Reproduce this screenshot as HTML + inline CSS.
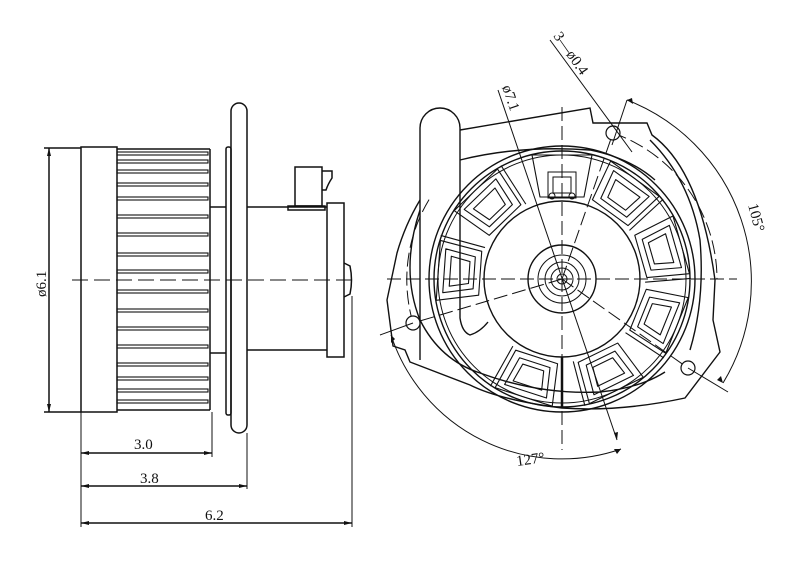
<!DOCTYPE html>
<html><head><meta charset="utf-8"><style>
html,body{margin:0;padding:0;background:#fff;}
svg{display:block}
text{font-family:"Liberation Serif",serif;font-size:15px;fill:#111}
</style></head><body>
<svg width="800" height="581" viewBox="0 0 800 581" xmlns="http://www.w3.org/2000/svg">
<rect width="800" height="581" fill="#fff"/>
<g fill="none" stroke="#111" stroke-width="1.5">
<!-- LEFT VIEW -->
<line x1="49" y1="148" x2="49" y2="412"/>
<line x1="44" y1="148" x2="81" y2="148"/>
<line x1="44" y1="412" x2="81" y2="412"/>
<rect x="81" y="147" width="36" height="265"/>
<line x1="117" y1="149" x2="210" y2="149"/>
<line x1="117" y1="410" x2="210" y2="410"/>
<line x1="210" y1="149" x2="210" y2="410"/>
<g stroke-width="1.1">
<rect x="117" y="152" width="91" height="3"/>
<rect x="117" y="160" width="91" height="3"/>
<rect x="117" y="170" width="91" height="3"/>
<rect x="117" y="183" width="91" height="3"/>
<rect x="117" y="197" width="91" height="3"/>
<rect x="117" y="215" width="91" height="3"/>
<rect x="117" y="233" width="91" height="3"/>
<rect x="117" y="253" width="91" height="3"/>
<rect x="117" y="270" width="91" height="3"/>
<rect x="117" y="290" width="91" height="3"/>
<rect x="117" y="309" width="91" height="3"/>
<rect x="117" y="327" width="91" height="3"/>
<rect x="117" y="345" width="91" height="3"/>
<rect x="117" y="363" width="91" height="3"/>
<rect x="117" y="377" width="91" height="3"/>
<rect x="117" y="389" width="91" height="3"/>
<rect x="117" y="400" width="91" height="3"/>
</g>
<line x1="210" y1="207" x2="226" y2="207"/>
<line x1="210" y1="353" x2="226" y2="353"/>
<rect x="226" y="147" width="5" height="268" rx="2"/>
<rect x="231" y="103" width="16" height="330" rx="8"/>
<line x1="247" y1="207" x2="327" y2="207"/>
<line x1="247" y1="350" x2="327" y2="350"/>
<rect x="327" y="203" width="17" height="154"/>
<path d="M344 263 L350 266 Q353 280 350 294 L344 297"/>
<rect x="295" y="167" width="27" height="39"/>
<rect x="288" y="206" width="37" height="4"/>
<path d="M322 171 L332 171 L332 178 Q328 184 326 190 L322 190"/>
<line x1="72" y1="280" x2="358" y2="280" stroke-dasharray="16,6" stroke-width="1"/>
<line x1="81" y1="412" x2="81" y2="527" stroke-width="1"/>
<line x1="212" y1="412" x2="212" y2="457" stroke-width="1"/>
<line x1="247" y1="433" x2="247" y2="489" stroke-width="1"/>
<line x1="352" y1="296" x2="352" y2="527" stroke-width="1"/>
<line x1="81" y1="453" x2="212" y2="453"/>
<line x1="81" y1="486" x2="247" y2="486"/>
<line x1="81" y1="523" x2="352" y2="523"/>
</g>
<g fill="#111">
<path d="M81 453 l8 -2 v4z M212 453 l-8 -2 v4z M81 486 l8 -2 v4z M247 486 l-8 -2 v4z M81 523 l8 -2 v4z M352 523 l-8 -2 v4z M49 148 l-2 8 h4z M49 412 l-2 -8 h4z"/>
</g>
<text x="134" y="449">3.0</text>
<text x="140" y="483">3.8</text>
<text x="205" y="520">6.2</text>
<text transform="translate(46,297) rotate(-90)">ø6.1</text>

<!-- RIGHT VIEW -->
<g fill="none" stroke="#111" stroke-width="1.4">
<path d="M460 130 L590 108 L593 123 L647 123 L652 135 Q700 170 715 280 L713 320 L720 352 L685 398 Q620 412 562 408 Q500 400 470 385 L410 362 L405 350 L393 346 L387 300 L397 253 Q405 225 420 200"/>
<path d="M460 160 Q520 145 590 150 Q630 158 655 180"/>
<path d="M420 210 Q400 270 420 320 Q440 360 480 373"/>
<path d="M650 140 Q690 180 700 240 Q705 300 690 350"/>
<path d="M480 373 Q540 395 600 392 Q640 388 665 372"/>
<path d="M420 360 L420 128 A20 20 0 0 1 460 128 L460 318 Q462 332 470 335 Q480 332 488 322"/>
<circle cx="562" cy="279" r="133"/>
<circle cx="562" cy="279" r="128"/>
<circle cx="562" cy="279" r="124" stroke-width="1"/>
<circle cx="562" cy="279" r="78"/>
<circle cx="562" cy="279" r="34"/>
<circle cx="562" cy="279" r="24" stroke-width="1"/>
<circle cx="562" cy="279" r="17" stroke-width="1"/>
<circle cx="562" cy="279" r="11" stroke-width="1"/>
<circle cx="562" cy="279" r="5" stroke-width="1"/>
</g>
<g fill="none" stroke="#111" stroke-width="1.1" stroke-linejoin="round" transform="translate(562,279)">
<defs>
<g id="pk">
<path d="M82 -22 L124 -30 L124 30 L82 22 Z"/>
<path d="M88 -16 L118 -22 L118 22 L88 16 Z"/>
<path d="M93 -11 L112 -15 L112 15 L93 11 Z"/>
<line x1="79" y1="26" x2="124" y2="35"/>
</g>
</defs>
<use href="#pk" transform="rotate(-54)"/>
<use href="#pk" transform="rotate(-16)"/>
<use href="#pk" transform="rotate(22)"/>
<use href="#pk" transform="rotate(64)"/>
<use href="#pk" transform="rotate(108)"/>
<use href="#pk" transform="rotate(184)"/>
<use href="#pk" transform="rotate(226)"/>
<path d="M82 -22 L124 -30 L124 30 L82 22 Z" transform="rotate(-90)"/>
<line x1="0" y1="78" x2="0" y2="128" stroke-width="2.5"/>
</g>
<g fill="none" stroke="#111" stroke-width="1">
<rect x="548" y="172" width="28" height="26"/>
<rect x="553" y="177" width="18" height="16"/>
<circle cx="552" cy="196" r="3"/><circle cx="572" cy="196" r="3"/>
</g>
<g stroke="#111" stroke-width="1" fill="none" stroke-dasharray="14,5">
<line x1="387" y1="279" x2="737" y2="279"/>
<line x1="562" y1="107" x2="562" y2="450"/>
<line x1="562" y1="279" x2="613" y2="133"/>
<line x1="562" y1="279" x2="413" y2="323"/>
<line x1="562" y1="279" x2="688" y2="368"/>
<path d="M613 133 A155 155 0 0 1 717 279" />
<path d="M413 323 A155 155 0 0 1 430 198"/>
</g>
<g fill="#fff" stroke="#111" stroke-width="1.2">
<circle cx="613" cy="133" r="7"/>
<circle cx="413" cy="323" r="7"/>
<circle cx="688" cy="368" r="7"/>
</g>
<g stroke="#111" stroke-width="1" fill="none">
<line x1="498" y1="90" x2="617" y2="440"/>
<line x1="550" y1="40" x2="632" y2="152"/>
<path d="M627 100 A195 195 0 0 1 723 383"/>
<line x1="627" y1="100" x2="612" y2="145"/>
<line x1="688" y1="368" x2="728" y2="392"/>
<path d="M391 335 A180 180 0 0 0 621 449"/>
<line x1="413" y1="323" x2="380" y2="335"/>
</g>
<g fill="#111">
<path d="M627 100 l6 4 l-1 -6z M723 383 l-2 -7 l-4 4z M391 335 l0 8 l4 -4z M621 449 l-7 0 l3 5z M617 440 l-3 -7 l4 -1z"/>
</g>
<text transform="translate(502,87) rotate(71)">ø7.1</text>
<text transform="translate(553,36) rotate(55)">3—ø0.4</text>
<text transform="translate(748,205) rotate(75)">105°</text>
<text transform="translate(517,466) rotate(-8)">127°</text>
</svg>
</body></html>
